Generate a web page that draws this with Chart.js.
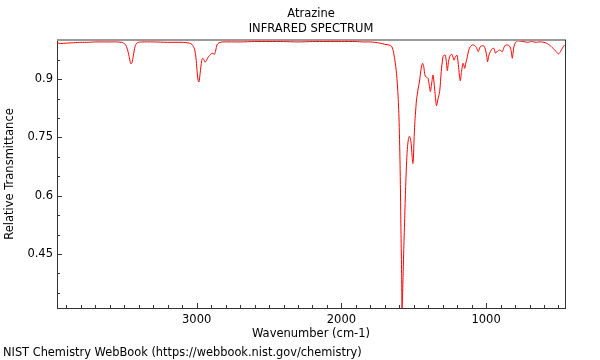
<!DOCTYPE html>
<html><head><meta charset="utf-8">
<script src="https://cdn.jsdelivr.net/npm/chart.js@4/dist/chart.umd.min.js"></script>
<style>
html,body{margin:0;padding:0;background:#fff;}
#wrap{position:relative;width:600px;height:360px;}
#footer{position:absolute;left:3px;top:345px;font:11.4px "DejaVu Sans";color:#000;line-height:15px;white-space:nowrap;}
</style></head><body>
<div id="wrap"><canvas id="c" width="600" height="360"></canvas>
<div id="footer">NIST Chemistry WebBook (https://webbook.nist.gov/chemistry)</div></div>
<script>
const chartTitle = ['Atrazine', 'INFRARED SPECTRUM'];
const xAxisTitle = 'Wavenumber (cm-1)';
const yAxisTitle = 'Relative Transmittance';

const wavenumbers = [3965,3940,3900,3850,3800,3750,3700,3650,3600,3550,3510,3490,3475,3465,3455,3447,3438,3425,3410,3380,3300,3200,3100,3050,3033,3015,3005,2998,2990,2984,2976,2965,2958,2950,2941,2930,2919,2905,2895,2885,2877,2868,2860,2845,2820,2700,2600,2500,2400,2300,2200,2100,2000,1900,1850,1800,1770,1734,1700,1670,1654,1643,1631,1619,1608,1601,1594,1588,1584,1581,1577,1569,1562,1555,1549,1543,1537,1531,1525,1518,1512,1506,1502,1498,1493,1488,1481,1470,1459,1450,1440,1432,1425,1419,1410,1401,1393,1385,1376,1367,1357,1343,1332,1321,1310,1298,1290,1282,1275,1268,1260,1252,1244,1236,1229,1222,1212,1201,1190,1183,1178,1170,1160,1154,1148,1140,1132,1120,1109,1098,1086,1076,1068,1060,1054,1047,1040,1030,1017,1010,1003,996,990,983,976,965,956,948,942,936,929,923,915,907,897,888,882,877,866,850,840,831,825,819,814,810,804,797,781,765,746,730,712,700,688,670,654,635,619,600,585,570,562,550,539,527,516,507,500,494,487,481,473,465,458];
const transmittance = [0.994,0.992,0.993,0.994,0.995,0.995,0.996,0.996,0.996,0.996,0.994,0.988,0.972,0.955,0.940,0.942,0.960,0.985,0.994,0.996,0.996,0.995,0.995,0.993,0.990,0.978,0.955,0.925,0.897,0.893,0.915,0.948,0.954,0.950,0.944,0.950,0.958,0.963,0.967,0.966,0.964,0.975,0.988,0.994,0.996,0.996,0.997,0.997,0.997,0.996,0.997,0.997,0.997,0.997,0.996,0.996,0.995,0.993,0.990,0.988,0.985,0.975,0.950,0.915,0.855,0.788,0.667,0.500,0.400,0.311,0.350,0.462,0.550,0.633,0.690,0.727,0.745,0.753,0.750,0.735,0.705,0.683,0.700,0.744,0.785,0.813,0.847,0.875,0.898,0.925,0.941,0.935,0.915,0.907,0.905,0.902,0.885,0.868,0.890,0.911,0.880,0.832,0.850,0.868,0.920,0.958,0.962,0.962,0.945,0.922,0.945,0.958,0.963,0.964,0.957,0.949,0.958,0.962,0.930,0.905,0.896,0.920,0.941,0.936,0.928,0.942,0.954,0.975,0.984,0.988,0.988,0.986,0.982,0.975,0.971,0.978,0.984,0.986,0.986,0.982,0.973,0.960,0.945,0.958,0.967,0.975,0.979,0.980,0.975,0.967,0.970,0.971,0.974,0.975,0.973,0.971,0.976,0.982,0.988,0.988,0.986,0.980,0.968,0.954,0.966,0.980,0.989,0.994,0.999,0.998,0.997,0.996,0.995,0.996,0.997,0.996,0.995,0.996,0.996,0.995,0.993,0.990,0.988,0.984,0.980,0.976,0.971,0.967,0.965,0.967,0.971,0.975,0.980,0.985,0.988];

const xTickValues = [3000, 2000, 1000];
const xMinorTicks = [3900,3800,3700,3600,3500,3400,3300,3200,3100,2900,2800,2700,2600,2500,2400,2300,2200,2100,1900,1800,1700,1600,1500,1400,1300,1200,1100,900,800,700,600,500];
const yTickValues = [0.45, 0.6, 0.75, 0.9];
const yMinorTicks = [0.35, 0.4, 0.5, 0.55, 0.65, 0.7, 0.8, 0.85, 0.95];

const FONT = {family: '"DejaVu Sans"', size: 11.5, weight: 'normal'};

const framePlugin = {
  id: 'frame',
  afterDraw(chart) {
    const {ctx, chartArea: a} = chart;
    const x = chart.scales.x, y = chart.scales.y;
    ctx.save();
    ctx.lineCap = 'butt';
    ctx.strokeStyle = '#9a9a9a'; ctx.lineWidth = 2;
    ctx.beginPath(); ctx.moveTo(a.left, a.top); ctx.lineTo(a.right + 1, a.top); ctx.stroke();
    ctx.strokeStyle = '#333'; ctx.lineWidth = 1;
    ctx.beginPath(); ctx.moveTo(a.right + 0.5, a.top); ctx.lineTo(a.right + 0.5, a.bottom); ctx.stroke();
    const bx = a.bottom;
    ctx.beginPath();
    xMinorTicks.forEach(v => { const p = Math.round(x.getPixelForValue(v)) + 0.5; ctx.moveTo(p, bx); ctx.lineTo(p, bx - 3); });
    xTickValues.forEach(v => { const p = Math.round(x.getPixelForValue(v)) + 0.5; ctx.moveTo(p, bx); ctx.lineTo(p, bx - 5); });
    const lx = a.left;
    yMinorTicks.forEach(v => { const p = Math.round(y.getPixelForValue(v)) + 0.5; ctx.moveTo(lx, p); ctx.lineTo(lx + 3, p); });
    yTickValues.forEach(v => { const p = Math.round(y.getPixelForValue(v)) + 0.5; ctx.moveTo(lx, p); ctx.lineTo(lx + 5, p); });
    ctx.stroke();
    ctx.restore();
  }
};

new Chart(document.getElementById('c'), {
  type: 'line',
  data: {
    datasets: [{
      data: wavenumbers.map((w, i) => ({x: w, y: transmittance[i]})),
      borderColor: '#ff0000',
      borderWidth: 1,
      pointRadius: 0,
      tension: 0.25,
      fill: false
    }]
  },
  options: {
    responsive: false,
    animation: false,
    devicePixelRatio: 1,
    layout: {padding: {left: 12, right: 35, top: 0, bottom: 15}},
    plugins: {
      legend: {display: false},
      tooltip: {enabled: false},
      title: {
        display: true, text: chartTitle, fullSize: false, color: '#000',
        font: {family: '"DejaVu Sans"', size: 11.5, weight: 'normal', lineHeight: 15/11.5},
        padding: {top: 7, bottom: 3}
      }
    },
    scales: {
      x: {
        type: 'linear', reverse: true, min: 455, max: 3965, position: 'bottom',
        afterBuildTicks: s => { s.ticks = xTickValues.map(v => ({value: v})); },
        ticks: {callback: v => String(v), font: FONT, color: '#000', padding: 5, maxRotation: 0, autoSkip: false},
        grid: {display: false, drawTicks: false},
        border: {display: true, color: '#333', width: 1},
        title: {display: true, text: xAxisTitle, font: FONT, color: '#000', padding: {top: 0, bottom: 4}},
        afterFit: s => { s.height = 37; }
      },
      y: {
        type: 'linear', min: 0.311, max: 1.001, position: 'left',
        afterBuildTicks: s => { s.ticks = yTickValues.map(v => ({value: v})); },
        ticks: {callback: v => String(v), font: FONT, color: '#000', padding: 4},
        grid: {display: false, drawTicks: false},
        border: {display: true, color: '#333', width: 1},
        title: {display: true, text: yAxisTitle, font: FONT, color: '#000', padding: {top: -8.9, bottom: 0}},
        afterFit: s => { s.width = 45; }
      }
    }
  },
  plugins: [framePlugin]
});
</script>
</body></html>
